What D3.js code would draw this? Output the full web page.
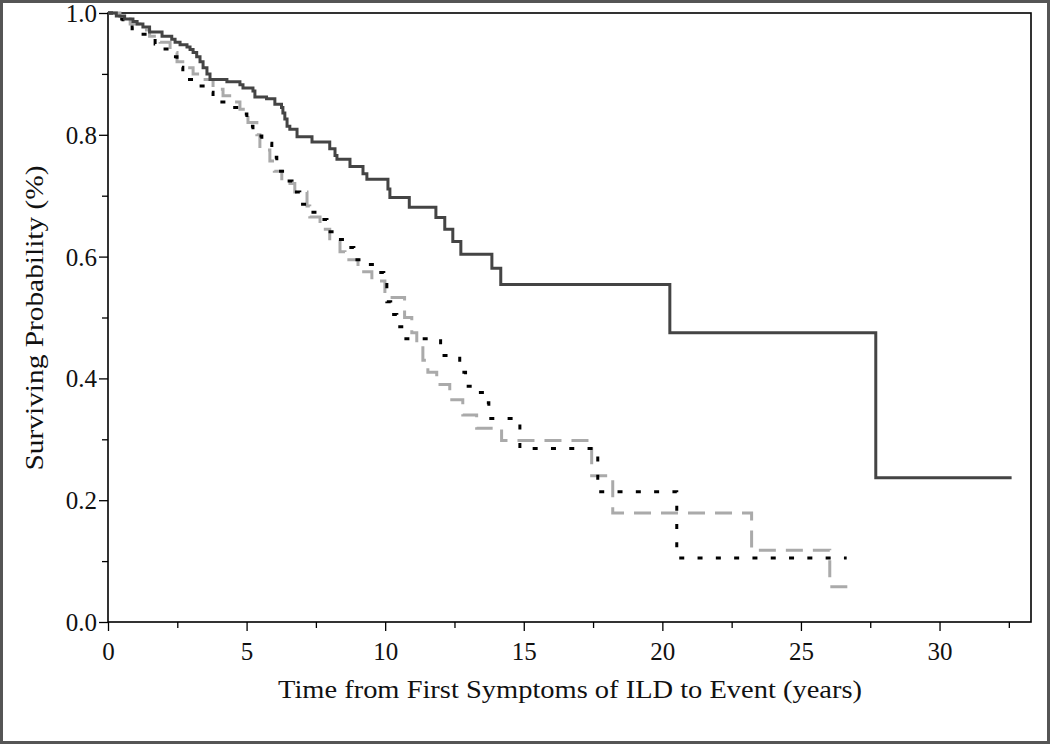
<!DOCTYPE html>
<html><head><meta charset="utf-8">
<script src="https://cdn.jsdelivr.net/npm/d3@7/dist/d3.min.js"></script>
<style>body{margin:0;background:#fff}svg{display:block}</style>
</head><body>
<svg id="c" width="1050" height="744"></svg>
<script>
// ---- data ----
const solidTimes = [0,0.3,0.6,0.9,1.05,1.26,1.5,1.95,2.3,2.42,2.6,2.85,2.96,3.07,3.2,3.32,3.43,3.57,3.68,4.29,4.76,4.87,5.23,5.3,5.72,6.02,6.26,6.31,6.38,6.46,6.56,6.82,7.36,8.0,8.19,8.26,8.73,9.2,9.34,10.1,10.17,10.87,11.83,12.15,12.44,12.73,13.85,14.17,20.27,27.7,32.6];
const solidSurv  = [1.0,0.995,0.99,0.986,0.982,0.977,0.969,0.962,0.957,0.952,0.948,0.944,0.94,0.935,0.928,0.92,0.91,0.9,0.891,0.887,0.882,0.877,0.872,0.862,0.859,0.85,0.845,0.836,0.826,0.814,0.809,0.797,0.788,0.777,0.766,0.76,0.748,0.736,0.727,0.711,0.697,0.681,0.664,0.645,0.625,0.604,0.581,0.554,0.475,0.237,0.237];

const dashedTimes = [0,0.43,0.8,1.15,1.5,1.88,2.24,2.49,2.85,3.07,3.43,3.79,4.15,4.47,4.76,5.05,5.37,5.48,5.84,6.0,6.27,6.74,7.18,7.28,7.65,8.0,8.37,8.55,9.02,9.52,9.99,10.7,10.96,11.14,11.36,11.54,11.86,12.33,12.8,13.3,14.2,17.45,18.21,23.22,26.04,26.8];
const dashedSurv  = [1.0,0.99,0.982,0.972,0.962,0.952,0.935,0.92,0.91,0.9,0.891,0.875,0.864,0.854,0.842,0.82,0.8,0.775,0.757,0.74,0.72,0.706,0.683,0.665,0.645,0.625,0.608,0.595,0.575,0.56,0.533,0.5,0.475,0.455,0.43,0.41,0.39,0.365,0.34,0.318,0.298,0.24,0.179,0.118,0.058,0.058];

const dottedTimes = [0,0.36,0.54,0.87,1.15,1.44,1.7,1.88,2.13,2.49,2.7,3.14,3.57,3.79,4.33,4.83,5.01,5.23,5.55,5.91,6.09,6.38,6.64,6.92,7.28,7.65,7.9,8.29,8.65,8.87,9.38,9.66,9.95,10.06,10.2,10.42,10.67,12.0,12.69,12.9,13.27,13.63,13.74,14.86,17.67,20.52,26.65];
const dottedSurv  = [1.0,0.99,0.982,0.974,0.965,0.96,0.949,0.941,0.928,0.911,0.891,0.88,0.87,0.854,0.845,0.834,0.814,0.798,0.786,0.763,0.74,0.724,0.706,0.686,0.673,0.661,0.641,0.628,0.615,0.595,0.587,0.574,0.554,0.526,0.505,0.485,0.465,0.4375,0.41,0.387,0.377,0.36,0.334,0.285,0.214,0.105,0.105];

const xTicks = [0,5,10,15,20,25,30];
const xMinor = [2.5,7.5,12.5,17.5,22.5,27.5,32.5];
const yTicks = [0.0,0.2,0.4,0.6,0.8,1.0];
const yMinor = [0.1,0.3,0.5,0.7,0.9];
const xTitle = "Time from First Symptoms of ILD to Event (years)";
const yTitle = "Surviving Probability (%)";

// ---- drawing ----
const svg = d3.select("#c");
const L = 108, R = 1031, T = 13, B = 622;
const x = d3.scaleLinear().domain([0, 33.3]).range([L, R]);
const y = d3.scaleLinear().domain([0, 1]).range([B, T]);

svg.append("rect").attr("x",1.5).attr("y",1.5).attr("width",1047).attr("height",741)
  .attr("fill","#fff").attr("stroke","#555").attr("stroke-width",3);

const font = "'Liberation Serif','Times New Roman',serif";

// y axis
const yAx = svg.append("g").attr("transform",`translate(${L},0)`)
  .call(d3.axisLeft(y).tickValues(yTicks).tickFormat(d3.format(".1f")).tickSize(9).tickPadding(2));
svg.append("g").attr("transform",`translate(${L},0)`)
  .call(d3.axisLeft(y).tickValues(yMinor).tickFormat("").tickSize(6))
  .select(".domain").remove();
// x axis
const xAx = svg.append("g").attr("transform",`translate(0,${B})`)
  .call(d3.axisBottom(x).tickValues(xTicks).tickSize(9).tickPadding(11));
svg.append("g").attr("transform",`translate(0,${B})`)
  .call(d3.axisBottom(x).tickValues(xMinor).tickFormat("").tickSize(6))
  .select(".domain").remove();

svg.selectAll(".domain").remove();
svg.selectAll(".tick line").attr("stroke","#000").attr("stroke-width",1.3);
svg.selectAll(".tick text").attr("font-family",font).attr("fill","#111");
yAx.selectAll(".tick text").attr("font-size",25).attr("dy","0.34em");
xAx.selectAll(".tick text").attr("font-size",25);

// plot frame
svg.append("rect").attr("x",L).attr("y",T).attr("width",R-L).attr("height",B-T)
  .attr("fill","none").attr("stroke","#000").attr("stroke-width",1.6);

// curves
const line = d3.line().x(d=>x(d[0])).y(d=>y(d[1])).curve(d3.curveStepAfter);
const series = [
  {t:dashedTimes, s:dashedSurv, color:"#aaaaaa", dash:"17,10", w:3},
  {t:dottedTimes, s:dottedSurv, color:"#000000", dash:"5,13.3", w:3},
  {t:solidTimes,  s:solidSurv,  color:"#444444", dash:null, w:3}
];
series.forEach(sr=>{
  const pts = sr.t.map((t,i)=>[t, sr.s[i]]);
  svg.append("path").datum(pts).attr("d",line).attr("fill","none")
    .attr("stroke",sr.color).attr("stroke-width",sr.w)
    .attr("stroke-dasharray",sr.dash).attr("stroke-linejoin","miter");
});

// titles
svg.append("text").attr("x",(278+862)/2).attr("y",698).attr("text-anchor","middle")
  .attr("font-family",font).attr("font-size",25).attr("fill","#111")
  .attr("textLength",584).attr("lengthAdjust","spacingAndGlyphs").text(xTitle);
svg.append("text").attr("transform","translate(43,318) rotate(-90)").attr("text-anchor","middle")
  .attr("font-family",font).attr("font-size",25).attr("fill","#111")
  .attr("textLength",305).attr("lengthAdjust","spacingAndGlyphs").text(yTitle);
</script>
</body></html>
